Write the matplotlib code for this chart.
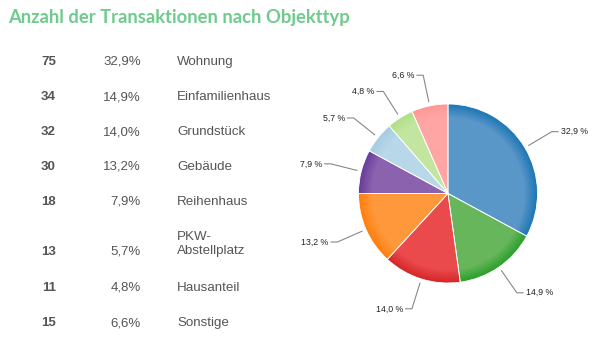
import numpy as np
import matplotlib
matplotlib.use("Agg")
import matplotlib.pyplot as plt
from matplotlib.colors import to_rgb

# Daten
categories = ["Wohnung", "Einfamilienhaus", "Grundstück", "Gebäude",
              "Reihenhaus", "PKW-\nAbstellplatz", "Hausanteil", "Sonstige"]
counts = [75, 34, 32, 30, 18, 13, 11, 15]
pct_labels = ["32,9%", "14,9%", "14,0%", "13,2%", "7,9%", "5,7%", "4,8%", "6,6%"]
pie_labels = ["32,9 %", "14,9 %", "14,0 %", "13,2 %", "7,9 %", "5,7 %", "4,8 %", "6,6 %"]

# Farben: Rand (dunkel) und Innen (hell)
edge_colors = ["#1f77b4", "#2ca02c", "#d62728", "#ff7f0e",
               "#6a3d9a", "#a6cde2", "#b2df8a", "#ff9896"]
inner_colors = ["#5a97c9", "#68b65c", "#ea4a4c", "#ff983a",
                "#8a62ae", "#b8d7e9", "#c2e69f", "#ffa6a5"]

TITLE_COLOR = "#6fcb8d"
TEXT_COLOR = "#555555"

fig = plt.figure(figsize=(5.93, 3.5), dpi=100)
W, H = 593.0, 350.0

# Titel
fig.text(8 / W, 1 - 17 / H, "Anzahl der Transaktionen nach Objekttyp",
         color=TITLE_COLOR, fontsize=13.2, fontweight="bold",
         family="Lato", va="center", ha="left")

# Tabelle links
row_y = [62, 97, 132, 167, 202, 244, 288, 323]
for i, (cat, n, p) in enumerate(zip(categories, counts, pct_labels)):
    y = 1 - row_y[i] / H
    y_num = y
    if "\n" in cat:
        y_num = 1 - (row_y[i] + 8) / H
    fig.text(56 / W, y_num, str(n), ha="right", va="center", fontsize=9.5,
             fontweight="bold", color=TEXT_COLOR, family="Liberation Sans")
    fig.text(141 / W, y_num, p, ha="right", va="center", fontsize=9.5,
             color=TEXT_COLOR, family="Liberation Sans")
    fig.text(177 / W, y, cat, ha="left", va="center", fontsize=9.6,
             color=TEXT_COLOR, family="Liberation Sans", linespacing=1.25)

# Kreisdiagramm
R_PX = 89.5
cx, cy = 448.0, 350 - 193.5
lim = 1.6
size = 2 * lim * R_PX
ax = fig.add_axes([(cx - size / 2) / W, (cy - size / 2) / H, size / W, size / H])
ax.set_xlim(-lim, lim)
ax.set_ylim(-lim, lim)
ax.set_aspect("equal")
ax.axis("off")

# Schattierung: Rand dunkler, innen heller
radii = np.linspace(1.0, 0.86, 8)
for k, r in enumerate(radii):
    t = k / (len(radii) - 1)
    cols = [tuple((1 - t) * np.array(to_rgb(e)) + t * np.array(to_rgb(c)))
            for e, c in zip(edge_colors, inner_colors)]
    ax.pie(counts, radius=r, colors=cols, startangle=90, counterclock=False,
           wedgeprops=dict(linewidth=0))
wedges, _ = ax.pie(counts, radius=1.0, startangle=90, counterclock=False,
                   wedgeprops=dict(facecolor="none", edgecolor="white", linewidth=0.6))
ax.set_xlim(-lim, lim)
ax.set_ylim(-lim, lim)

# Beschriftungen mit Führungslinien
for w, lab in zip(wedges, pie_labels):
    ang = np.deg2rad((w.theta1 + w.theta2) / 2)
    x0, y0 = 1.05 * np.cos(ang), 1.05 * np.sin(ang)
    x1, y1 = 1.35 * np.cos(ang), 1.35 * np.sin(ang)
    side = 1 if np.cos(ang) >= 0 else -1
    x2 = x1 + side * 0.07
    ax.plot([x0, x1, x2], [y0, y1, y1], color="#888888", lw=0.8)
    ax.text(x2 + side * 0.03, y1, lab, ha="left" if side > 0 else "right",
            va="center", fontsize=6.3, color="#222222", family="Liberation Sans")

fig.savefig("out.png", dpi=100)
